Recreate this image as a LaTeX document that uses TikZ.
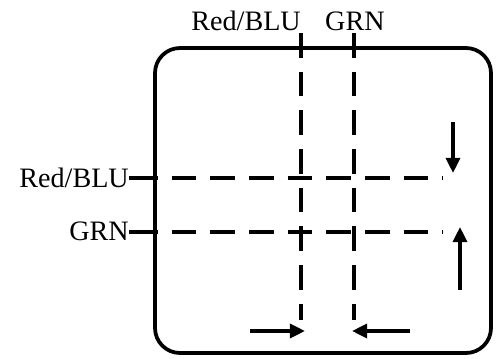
\documentclass[tikz,border=0pt]{standalone}
\usepackage{fontspec}
\setmainfont{Liberation Serif}
\usetikzlibrary{arrows.meta}

\begin{document}
\begin{tikzpicture}[
    x=0.03cm,
    y=-0.03cm,
    font=\fontsize{24}{28}\selectfont,
    wireLabel/.style={
        inner sep=0pt
    },
    frame/.style={
        line width=3.2pt,
        rounded corners=0.75cm
    },
    wire/.style={
        line width=3pt,
        dash pattern=on 21pt off 12pt
    },
    lead/.style={
        line width=3pt
    },
    flow/.style={
        -{Triangle[length=13pt,width=12pt]},
        line width=3pt
    }
]

\useasboundingbox (0,0) rectangle (497,358);

% Screen outline
\draw[frame] (155,48) rectangle (491,353);

% Labels
\node[wireLabel, anchor=base east] (redTop) at (301,30) {Red/BLU};
\node[wireLabel, anchor=base west] (grnTop) at (325,30) {GRN};
\node[wireLabel, anchor=base east] (redLeft) at (129,187) {Red/BLU};
\node[wireLabel, anchor=base east] (grnLeft) at (129,240) {GRN};

% Line ends
\coordinate (redColTop) at (301,33);
\coordinate (redColEnd) at (301,320);
\coordinate (grnColTop) at (354,33);
\coordinate (grnColEnd) at (354,320);
\coordinate (redRowStart) at (133,178);
\coordinate (redRowEnd) at (443,178);
\coordinate (grnRowStart) at (133,232);
\coordinate (grnRowEnd) at (443,232);

% Vertical wires
\draw[wire] (redColTop) -- (redColEnd);
\draw[wire] (grnColTop) -- (grnColEnd);

% Horizontal wires
\draw[lead] (redLeft.east |- redRowStart) -- (redRowStart);
\draw[wire] (redRowStart) -- (redRowEnd);
\draw[lead] (grnLeft.east |- grnRowStart) -- (grnRowStart);
\draw[wire] (grnRowStart) -- (grnRowEnd);

% Direction arrows
\coordinate (downTail) at (453,122);
\coordinate (downTip) at (453,173);
\coordinate (upTail) at (460,290);
\coordinate (upTip) at (460,227);
\coordinate (rightTail) at (250,331);
\coordinate (rightTip) at (305,331);
\coordinate (leftTail) at (410,331);
\coordinate (leftTip) at (352,331);

\draw[flow] (downTail) -- (downTip);
\draw[flow] (upTail) -- (upTip);
\draw[flow] (rightTail) -- (rightTip);
\draw[flow] (leftTail) -- (leftTip);

\end{tikzpicture}
\end{document}
